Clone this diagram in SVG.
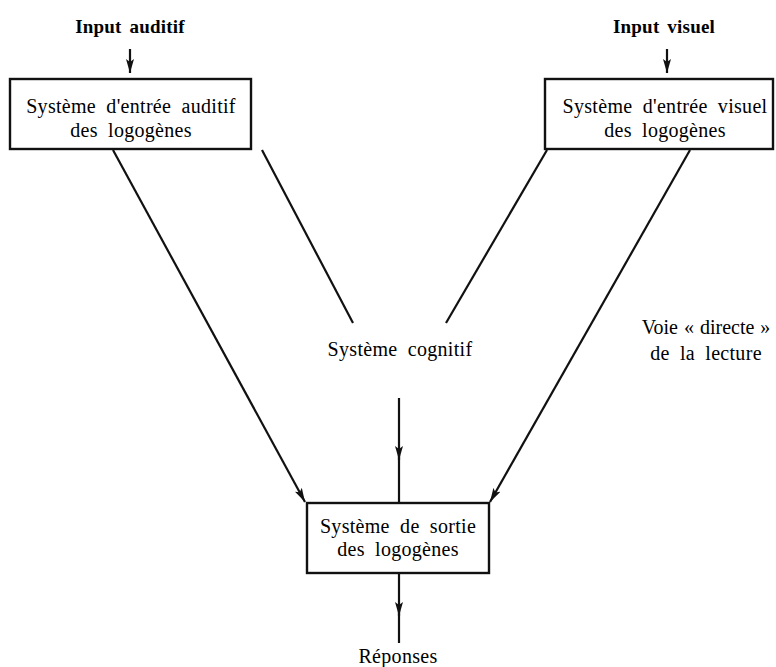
<svg xmlns="http://www.w3.org/2000/svg" width="776" height="667" viewBox="0 0 776 667">
<style>
text{font-family:"Liberation Serif","Times New Roman",serif;font-size:20px;fill:#000;text-anchor:middle;letter-spacing:0.3px;word-spacing:5px}
.b{font-weight:bold;font-size:19px;letter-spacing:0.2px;word-spacing:3px}
.box{fill:#fff;stroke:#111;stroke-width:2.4}
.ln{stroke:#111;stroke-width:2.2;fill:none}
</style>
<defs>
<marker id="ah" viewBox="0 0 14 8" refX="14" refY="4" markerWidth="14" markerHeight="8" markerUnits="userSpaceOnUse" orient="auto">
<path d="M0,0 L14,4 L0,8 L3,4 Z" fill="#111"/>
</marker>
</defs>
<g id="connectors">
<line class="ln" x1="130" y1="49" x2="130" y2="73" marker-end="url(#ah)"/>
<line class="ln" x1="667" y1="49" x2="667" y2="73" marker-end="url(#ah)"/>
<line class="ln" x1="113" y1="150" x2="305" y2="502" marker-end="url(#ah)"/>
<line class="ln" x1="262" y1="150" x2="353" y2="323"/>
<line class="ln" x1="547" y1="150" x2="446" y2="323"/>
<line class="ln" x1="690" y1="150" x2="490" y2="502" marker-end="url(#ah)"/>
<line class="ln" x1="399" y1="398" x2="399" y2="460" marker-end="url(#ah)"/>
<line class="ln" x1="399" y1="455" x2="399" y2="503"/>
<line class="ln" x1="399" y1="573" x2="399" y2="616" marker-end="url(#ah)"/>
<line class="ln" x1="399" y1="610" x2="399" y2="643"/>
</g>
<g id="input-auditif"><text class="b" x="130" y="33">Input auditif</text></g>
<g id="input-visuel"><text class="b" x="664" y="33">Input visuel</text></g>
<g id="entree-auditif">
<rect class="box" x="10" y="79" width="241" height="70"/>
<text x="131" y="113">Système d'entrée auditif</text>
<text x="131" y="137">des logogènes</text>
</g>
<g id="entree-visuel">
<rect class="box" x="545" y="79" width="228" height="70"/>
<text x="665" y="113">Système d'entrée visuel</text>
<text x="665" y="137">des logogènes</text>
</g>
<g id="cognitif"><text x="400" y="356">Système cognitif</text></g>
<g id="voie-directe">
<text x="706" y="334" style="word-spacing:1px;letter-spacing:0">Voie « directe »</text>
<text x="706" y="360">de la lecture</text>
</g>
<g id="sortie">
<rect class="box" x="307" y="503" width="182" height="70"/>
<text x="398" y="533">Système de sortie</text>
<text x="398" y="556">des logogènes</text>
</g>
<g id="reponses"><text x="398" y="663">Réponses</text></g>
</svg>
